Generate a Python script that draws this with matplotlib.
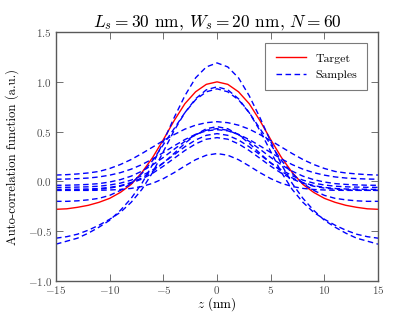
import numpy as np
import matplotlib
matplotlib.use("Agg")
import matplotlib.pyplot as plt

plt.rcParams['font.family'] = 'serif'
plt.rcParams['font.serif'] = ['cmr10']
plt.rcParams['mathtext.fontset'] = 'cm'
plt.rcParams['axes.formatter.use_mathtext'] = True
plt.rcParams['axes.unicode_minus'] = True

# half profiles at z = 0, 1, ..., 15 nm (the curves are symmetric in z)
z_half = [0, 1, 2, 3, 4, 5, 6, 7, 8, 9, 10, 11, 12, 13, 14, 15]

target = [1.00, 0.975, 0.90, 0.78, 0.61, 0.42, 0.24, 0.09, -0.03, -0.11,
          -0.17, -0.21, -0.24, -0.26, -0.275, -0.28]

samples = [
    [1.19, 1.15, 1.04, 0.86, 0.64, 0.40, 0.17, -0.02, -0.17, -0.29,
     -0.39, -0.46, -0.52, -0.57, -0.60, -0.63],
    [0.95, 0.92, 0.83, 0.69, 0.51, 0.30, 0.09, -0.08, -0.21, -0.31,
     -0.38, -0.44, -0.49, -0.53, -0.555, -0.57],
    [0.93, 0.90, 0.82, 0.69, 0.53, 0.37, 0.21, 0.08, -0.02, -0.09,
     -0.14, -0.17, -0.185, -0.195, -0.20, -0.20],
    [0.60, 0.59, 0.565, 0.525, 0.47, 0.41, 0.345, 0.28, 0.22, 0.17,
     0.13, 0.10, 0.085, 0.075, 0.068, 0.064],
    [0.55, 0.529, 0.469, 0.382, 0.282, 0.185, 0.101, 0.035, -0.011, -0.042,
     -0.060, -0.071, -0.076, -0.078, -0.079, -0.08],
    [0.53, 0.514, 0.469, 0.402, 0.323, 0.241, 0.166, 0.103, 0.053, 0.018,
     -0.006, -0.022, -0.030, -0.035, -0.038, -0.039],
    [0.52, 0.508, 0.473, 0.42, 0.357, 0.29, 0.226, 0.169, 0.123, 0.088,
     0.063, 0.045, 0.034, 0.028, 0.024, 0.022],
    [0.48, 0.463, 0.416, 0.348, 0.268, 0.187, 0.116, 0.057, 0.013, -0.017,
     -0.036, -0.048, -0.054, -0.057, -0.059, -0.06],
    [0.44, 0.424, 0.377, 0.310, 0.232, 0.153, 0.082, 0.024, -0.018, -0.048,
     -0.067, -0.078, -0.084, -0.087, -0.089, -0.09],
    [0.28, 0.263, 0.218, 0.155, 0.088, 0.028, -0.019, -0.051, -0.070, -0.081,
     -0.086, -0.089, -0.09, -0.09, -0.09, -0.09],
]


def full(half):
    # mirror the half profile to get -15..15
    half = np.asarray(half, dtype=float)
    return np.concatenate([half[:0:-1], half])


z = full(z_half)
z[:len(z_half) - 1] *= -1

fig = plt.figure(figsize=(4.15, 3.12), dpi=100)
ax = fig.add_axes([0.135, 0.0994, 0.776, 0.7978])

ax.plot(z, full(target), color='r', lw=1.0, label='Target')
for i, s in enumerate(samples):
    ax.plot(z, full(s), color='b', lw=1.0, ls='--', dashes=(4, 2.5),
            label='Samples' if i == 0 else None)

ax.set_xlim(-15, 15)
ax.set_ylim(-1.0, 1.5)
ax.set_xticks([-15, -10, -5, 0, 5, 10, 15])
ax.set_yticks([-1.0, -0.5, 0.0, 0.5, 1.0, 1.5])
ax.set_yticklabels(['$-1.0$', '$-0.5$', '$0.0$', '$0.5$', '$1.0$', '$1.5$'])
ax.tick_params(direction='in', top=True, right=True, labelsize=8,
               length=5, width=0.6, colors='0.35', labelcolor='0.3')
ax.tick_params(axis='x', pad=2.5)
ax.tick_params(axis='y', pad=3)
for sp in ax.spines.values():
    sp.set_color('0.35')
    sp.set_linewidth(1.0)

ax.set_xlabel('$z$ (nm)', fontsize=9.5, labelpad=-1)
ax.set_ylabel('Auto-correlation function (a.u.)', fontsize=9.2, labelpad=6)
ax.set_title(r'$L_s = 30$ nm, $W_s = 20$ nm, $N = 60$', fontsize=12.5, pad=4)

leg = ax.legend(loc='upper right', fontsize=8.5, fancybox=False,
                handlelength=2.5, borderpad=0.9, labelspacing=0.5,
                borderaxespad=0.9)
leg.get_frame().set_edgecolor('0.35')
leg.get_frame().set_linewidth(0.8)

fig.savefig('out.png', dpi=100)
